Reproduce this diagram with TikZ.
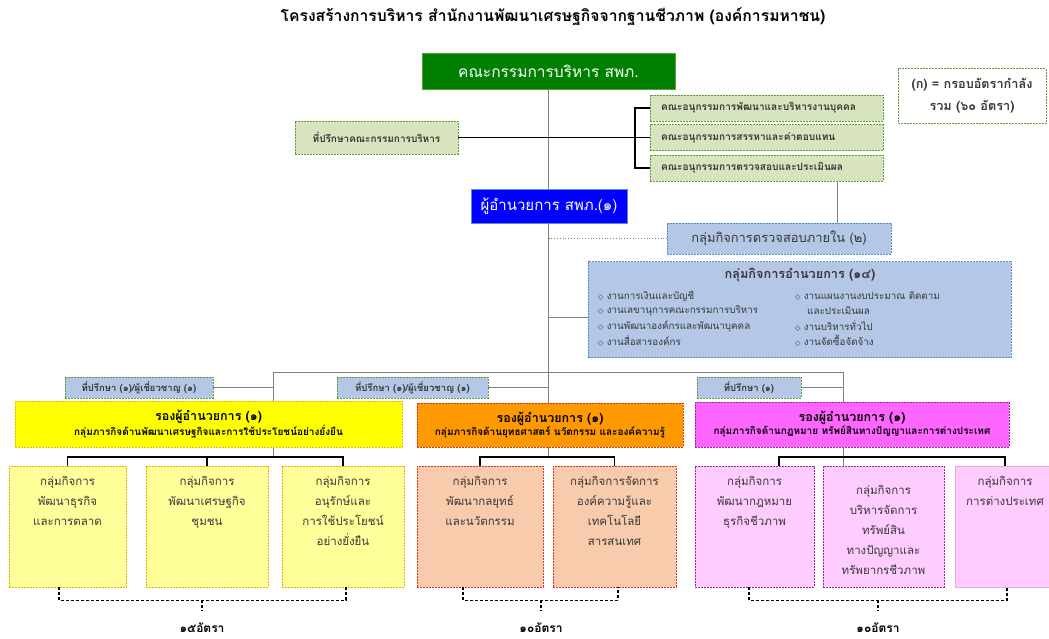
\documentclass[tikz,border=0pt]{standalone}
\usepackage{fontspec}
\setmainfont[Script=Thai]{Loma}
\newfontfamily\dejavu{DejaVu Sans}
\usetikzlibrary{calc,backgrounds}
\definecolor{dgreen}{HTML}{008000}
\definecolor{gedge}{HTML}{5E9E3A}
\definecolor{lgreen}{HTML}{D7E4BD}
\definecolor{dblue}{HTML}{0000FF}
\definecolor{lblue}{HTML}{B4C7E7}
\definecolor{bedge}{HTML}{5B8BC9}
\definecolor{yel}{HTML}{FFFF00}
\definecolor{yedge}{HTML}{E8C000}
\definecolor{lyel}{HTML}{FFFF99}
\definecolor{yedgeb}{HTML}{F2A900}
\definecolor{org}{HTML}{FF9900}
\definecolor{oedge}{HTML}{E0301E}
\definecolor{lorg}{HTML}{F8CBAD}
\definecolor{mag}{HTML}{FF66FF}
\definecolor{medge}{HTML}{A020A0}
\definecolor{lmag}{HTML}{FFCCFF}
\definecolor{medgel}{HTML}{E8A6E8}
\definecolor{txt}{HTML}{383838}
\definecolor{lgray}{HTML}{808080}
\newcommand\fs[2]{\fontsize{#1}{#2}\selectfont}
\newcommand\tb[4]{\parbox[c][#2pt][t]{#1pt}{\centering\vspace*{#3pt}#4\par}}
\newcommand\dia{{\dejavu\fs{7}{9}◇}\ }
\begin{document}
\begin{tikzpicture}[x=1pt,y=-1pt,
  box/.style={rectangle, inner sep=0pt, align=center, line width=0.8pt},
  dsh/.style={dash pattern=on 2pt off 1pt},
  gline/.style={draw=lgray, line width=0.8pt},
  bline/.style={draw=black, line width=1.3pt},
  brace/.style={draw=black, line width=1.2pt, dash pattern=on 3pt off 2pt},
  lblue box/.style={box, fill=lblue, draw=bedge, dsh},
  adv box/.style={box, fill=lblue, draw=gedge, dsh, minimum height=21pt, font=\fs{9.5}{11}\bfseries, text=txt},
  com box/.style={box, fill=lgreen, draw=gedge, dsh, minimum width=233pt, minimum height=26pt, font=\fs{10.1}{12}\bfseries, text=txt},
  ybot/.style={box, fill=lyel, draw=yedgeb, dsh, font=\fs{11.5}{20}, text=txt},
  obot/.style={box, fill=lorg, draw=oedge, dsh, font=\fs{11.5}{20}, text=txt},
  mbot/.style={box, fill=lmag, draw=medge, dsh, font=\fs{11.5}{20}, text=txt},
  item/.style={anchor=west, inner sep=1pt, font=\fs{9.8}{12}, text=txt},
  rate/.style={font=\fs{12}{14}\bfseries, text=black}
]
\useasboundingbox (0,0) rectangle (1049,638);

% title
\node[font=\fs{15.7}{18}\bfseries] (title) at (553,17) {โครงสร้างการบริหาร สำนักงานพัฒนาเศรษฐกิจจากฐานชีวภาพ (องค์การมหาชน)};

% top level
\node[box, fill=dgreen, draw=gedge, minimum width=253pt, minimum height=36pt, text=white, font=\fs{15.5}{17}] (board) at (548.5,71) {คณะกรรมการบริหาร สพภ.};
\node[box, fill=white, draw=gedge, dsh, minimum width=148pt, minimum height=55pt, font=\fs{12.7}{22}\bfseries, text=txt] (legend) at (972,96) {(ก) = กรอบอัตรากำลัง\\รวม (๖๐ อัตรา)};
\node[box, fill=lgreen, draw=gedge, dsh, minimum width=163pt, minimum height=33pt, font=\fs{10}{12}\bfseries, text=txt] (advB) at (376.5,137.5) {ที่ปรึกษาคณะกรรมการบริหาร};
\node[com box] (com1) at (766.5,108) {\parbox{211pt}{คณะอนุกรรมการพัฒนาและบริหารงานบุคคล}};
\node[com box] (com2) at (766.5,137.5) {\parbox{211pt}{คณะอนุกรรมการสรรหาและค่าตอบแทน}};
\node[com box] (com3) at (766.5,168) {\parbox{211pt}{คณะอนุกรรมการตรวจสอบและประเมินผล}};
\node[box, fill=dblue, draw=bedge, minimum width=156pt, minimum height=34pt, text=white, font=\fs{15}{17}] (dir) at (549,206) {ผู้อำนวยการ สพภ.(๑)};
\node[lblue box, minimum width=224pt, minimum height=31pt, font=\fs{12.9}{14}, text=txt] (audit) at (779,238.5) {กลุ่มกิจการตรวจสอบภายใน (๒)};

% administration group
\node[lblue box, minimum width=423pt, minimum height=96pt] (admin) at (799.5,309.5) {};
\node[font=\fs{12.7}{14}\bfseries, text=txt] (admT) at (800,275) {กลุ่มกิจการอำนวยการ (๑๔)};
\node[item] (a1) at (597,296) {\dia งานการเงินและบัญชี};
\node[item] (a2) at (597,311) {\dia งานเลขานุการคณะกรรมการบริหาร};
\node[item] (a3) at (597,326) {\dia งานพัฒนาองค์กรและพัฒนาบุคคล};
\node[item] (a4) at (597,341) {\dia งานสื่อสารองค์กร};
\node[item] (b1) at (794,296) {\dia งานแผนงานงบประมาณ ติดตาม};
\node[item] (b1x) at (806,311) {และประเมินผล};
\node[item] (b2) at (794,326) {\dia งานบริหารทั่วไป};
\node[item] (b3) at (794,341) {\dia งานจัดซื้อจัดจ้าง};

% advisors of deputies
\node[adv box, minimum width=148pt] (adv1) at (139,387.5) {ที่ปรึกษา (๑)/ผู้เชี่ยวชาญ (๑)};
\node[adv box, minimum width=151pt] (adv2) at (412.5,387.5) {ที่ปรึกษา (๑)/ผู้เชี่ยวชาญ (๑)};
\node[adv box, minimum width=104pt] (adv3) at (749,387.5) {ที่ปรึกษา (๑)};

% deputies
\node[box, fill=yel, draw=yedge, dsh, minimum width=387pt, minimum height=46pt, text=black] (depY) at (208.5,424) {{\fs{12.5}{16}\bfseries รองผู้อำนวยการ (๑)}\\[1pt]{\fs{10}{12}\bfseries กลุ่มภารกิจด้านพัฒนาเศรษฐกิจและการใช้ประโยชน์อย่างยั่งยืน}};
\node[box, fill=org, draw=oedge, dsh, minimum width=266pt, minimum height=44pt, text=black] (depO) at (550,425) {{\fs{12.5}{16}\bfseries รองผู้อำนวยการ (๑)}\\[1pt]{\fs{10}{12}\bfseries กลุ่มภารกิจด้านยุทธศาสตร์ นวัตกรรม และองค์ความรู้}};
\node[box, fill=mag, draw=medge, dsh, minimum width=314pt, minimum height=45pt, text=black] (depM) at (852,424.5) {{\fs{12.5}{16}\bfseries รองผู้อำนวยการ (๑)}\\[1pt]{\fs{10}{12}\bfseries กลุ่มภารกิจด้านกฎหมาย ทรัพย์สินทางปัญญาและการต่างประเทศ}};

% bottom units
\node[ybot] (Y1) at (67.5,526.5) {\tb{117}{121}{10}{กลุ่มกิจการ\\พัฒนาธุรกิจ\\และการตลาด}};
\node[ybot] (Y2) at (207,526.5) {\tb{122}{121}{10}{กลุ่มกิจการ\\พัฒนาเศรษฐกิจ\\ชุมชน}};
\node[ybot] (Y3) at (343,526.5) {\tb{122}{121}{10}{กลุ่มกิจการ\\อนุรักษ์และ\\การใช้ประโยชน์\\อย่างยั่งยืน}};
\node[obot] (O1) at (480,526.5) {\tb{126}{121}{10}{กลุ่มกิจการ\\พัฒนากลยุทธ์\\และนวัตกรรม}};
\node[obot] (O2) at (614.5,526.5) {\tb{123}{121}{10}{กลุ่มกิจการจัดการ\\องค์ความรู้และ\\เทคโนโลยี\\สารสนเทศ}};
\node[mbot] (M1) at (754.5,526.5) {\tb{119}{121}{10}{กลุ่มกิจการ\\พัฒนากฎหมาย\\ธุรกิจชีวภาพ}};
\node[mbot] (M2) at (883.5,526.5) {\tb{121}{121}{19}{กลุ่มกิจการ\\บริหารจัดการ\\ทรัพย์สิน\\ทางปัญญาและ\\ทรัพยากรชีวภาพ}};
\node[mbot, draw=medgel, solid] (M3) at (1005,526.5) {\tb{100}{121}{10}{กลุ่มกิจการ\\การต่างประเทศ}};

% rate labels
\node[rate] (rY) at (202,628) {๑๕อัตรา};
\node[rate] (rO) at (541,628) {๑๐อัตรา};
\node[rate] (rM) at (878,628) {๑๐อัตรา};

% connectors (behind the boxes)
\begin{scope}[on background layer]
\fill[white] (0,0) rectangle (1049,638);
\coordinate (hl) at (273,372);
\coordinate (hr) at (843,372);
\coordinate (brk) at (635,137.5);
\coordinate (yj) at (273,457);
\coordinate (mj) at (843,457);
\coordinate (adm) at ($(admin.west)+(0,8)$);
\coordinate (aud) at ($(com3.south)+(70.5,0)$);
\coordinate (m1a) at ($(M1.north)+(24.5,0)$);
\draw[gline] (board.south) -- (board.south |- yj);
\draw[gline] (hl) -- (hr);
\draw[gline] (hl) -- (yj);
\draw[gline] (hr) -- (hr |- M2.north);
\draw[gline] (adv1.east) -- (adv1.east -| hl);
\draw[gline] (adv2.east) -- (adv2.east -| board.south);
\draw[gline] (adv3.east) -- (adv3.east -| hr);
\draw[gline] (aud) -- (aud |- audit.north);
\draw[draw=lgray, line width=0.8pt, dotted] (audit.west -| board.south) -- (audit.west);
\draw[gline] (adm -| board.south) -- (adm);
\draw[bline] (advB.east) -- (brk);
\draw[bline] (com1.west) -- (com1.west -| brk) -- (com3.west -| brk) -- (com3.west);
\draw[bline] (brk) -- (com2.west);
\draw[bline] (Y1.north) |- (yj) -| (Y3.north);
\draw[bline] (Y2.north) -- (Y2.north |- yj);
\draw[bline] (O1.north) |- (board.south |- yj) -| (O2.north);
\draw[bline] (m1a) |- (mj) -| (M3.north);
\end{scope}

% rate brackets
\coordinate (ybL) at ($(Y1.south)+(-8.5,0)$);
\coordinate (ybR) at ($(Y3.south)+(3,0)$);
\coordinate (ybC) at (202,600);
\draw[brace] (ybL) -- ++(0,13) -| (ybR);
\draw[brace] (ybC) -- ($(rY.north)+(0,-9)$);
\coordinate (obL) at ($(O1.south)+(-17,0)$);
\coordinate (obR) at ($(O2.south)+(3.5,0)$);
\coordinate (obC) at (541,600);
\draw[brace] (obL) -- ++(0,13) -| (obR);
\draw[brace] (obC) -- ($(rO.north)+(0,-9)$);
\coordinate (mbL) at ($(M1.south)+(-5.5,0)$);
\coordinate (mbR) at ($(M3.south)+(2,0)$);
\coordinate (mbC) at (878,600);
\draw[brace] (mbL) -- ++(0,13) -| (mbR);
\draw[brace] (mbC) -- ($(rM.north)+(0,-9)$);
\end{tikzpicture}
\end{document}
